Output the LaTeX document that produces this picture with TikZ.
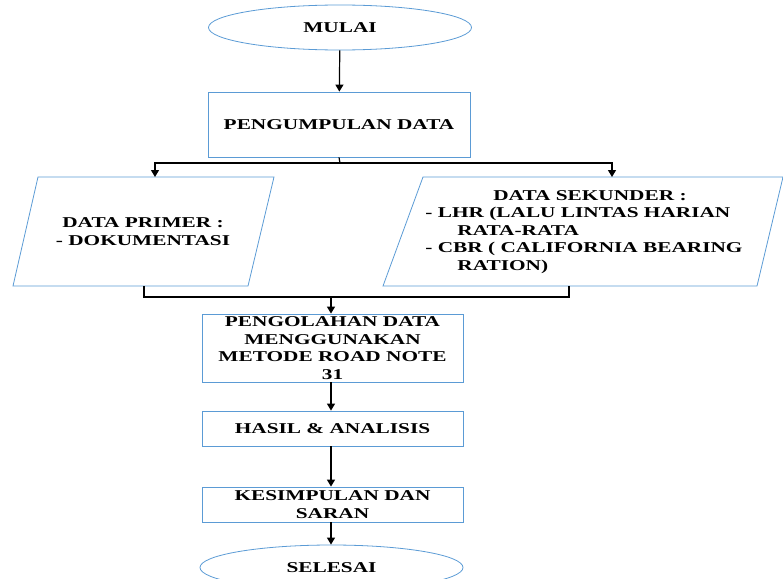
\documentclass[tikz,border=0pt]{standalone}
\usepackage{fontspec}
\setmainfont{Liberation Serif}
\newfontfamily\widefont[FakeStretch=1.42]{Liberation Serif}
\usetikzlibrary{arrows.meta,shapes.geometric}
\definecolor{boxblue}{RGB}{91,155,213}
\begin{document}
\begin{tikzpicture}[x=1pt,y=-1pt,
 txt/.style={font=\widefont\bfseries\fontsize{15}{17.5}\selectfont, align=center, inner sep=0pt},
 procbox/.style={draw=boxblue, line width=0.8pt, rectangle, txt},
 term/.style={draw=boxblue, line width=0.8pt, ellipse, txt},
 shapeline/.style={draw=boxblue, line width=0.8pt},
 conn/.style={line width=1.2pt, black},
 arr/.style={conn, -{Triangle[width=8pt,length=7pt]}}]
\useasboundingbox (0,0) rectangle (783,578);
\clip (0,0) rectangle (783,578);

\node[term, minimum width=263pt, minimum height=45pt] (start) at (340,27.5) {MULAI};
\node[procbox, minimum width=262pt, minimum height=65pt] (collect) at (339,124.5) {PENGUMPULAN DATA};

\node[txt, minimum width=236pt, minimum height=109pt] (prim) at (143,231.5) {DATA PRIMER :\\- DOKUMENTASI};
\draw[shapeline] (38,177) -- (274,177) -- (248,286) -- (13,286) -- cycle;

\node[txt, minimum width=330pt, minimum height=109pt] (sek) at (584,231.5) {\begin{tabular}{@{}l@{}}
\multicolumn{1}{@{}c@{}}{\hspace*{12pt}DATA SEKUNDER :}\\
- LHR (LALU LINTAS HARIAN\\
\hspace*{32pt}RATA-RATA\\
- CBR ( CALIFORNIA BEARING\\
\hspace*{32pt}RATION)
\end{tabular}};
\draw[shapeline] (423,177) -- (783,177) -- (757,286) -- (383,286) -- cycle;

\node[procbox, minimum width=261pt, minimum height=68pt] (proc) at (332.5,348) {PENGOLAHAN DATA\\MENGGUNAKAN\\METODE ROAD NOTE\\31};
\node[procbox, minimum width=261pt, minimum height=35pt] (hasil) at (332.5,428.5) {HASIL \& ANALISIS};
\node[procbox, minimum width=261pt, minimum height=35pt] (kes) at (332.5,504.5) {KESIMPULAN DAN\\SARAN};
\node[term, minimum width=263pt, minimum height=45pt] (finish) at (331.5,567.5) {SELESAI};

\coordinate (split) at (340,163);
\coordinate (primtop) at (155,177);
\coordinate (sektop) at (612,177);
\coordinate (primbot) at (144,286);
\coordinate (sekbot) at (569,286);
\coordinate (merge) at (331,297);

\draw[arr] (start) -- (collect);
\draw[conn] (collect.south) -- (split);
\draw[arr] (split) -| (primtop);
\draw[arr] (split) -| (sektop);
\draw[conn] (primbot) |- (merge);
\draw[conn] (sekbot) |- (merge);
\draw[arr] (merge) -- (merge |- proc.north);
\draw[arr] (merge |- proc.south) -- (merge |- hasil.north);
\draw[arr] (merge |- hasil.south) -- (merge |- kes.north);
\draw[arr] (merge |- kes.south) -- (merge |- finish.north);
\end{tikzpicture}
\end{document}
